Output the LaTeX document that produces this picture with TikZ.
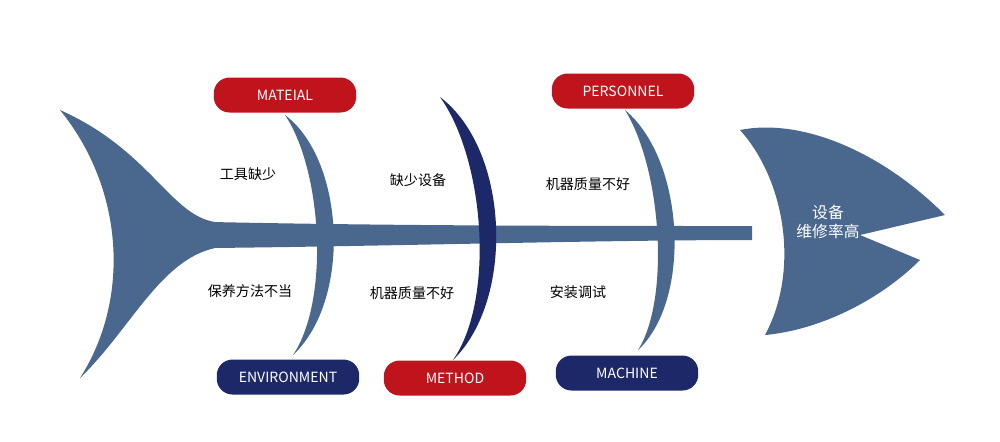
\documentclass[tikz,border=0pt]{standalone}
\usepackage{fontspec}
\setmainfont{Noto Sans CJK SC}
\usetikzlibrary{positioning}
\definecolor{fishblue}{RGB}{74,104,142}
\definecolor{fishnavy}{RGB}{28,40,104}
\definecolor{fishred}{RGB}{192,20,28}
\tikzset{
  pill/.style={rounded corners=9pt, minimum width=2.85cm, minimum height=0.7cm, text=white, font=\fontsize{8}{9}\selectfont, inner sep=0pt},
  cause/.style={font=\fontsize{8}{9}\selectfont, text=black}
}
\begin{document}
\begin{tikzpicture}[x=0.02cm, y=-0.02cm]
\useasboundingbox (0,0) rectangle (1000,441);
% Tail
\fill[fishblue] (60,110) .. controls (150,150) and (170,215) .. (215,222) -- (215,248)
  .. controls (160,260) and (130,330) .. (80,378) .. controls (130,300) and (125,190) .. (60,110) -- cycle;
% Spine
\fill[fishblue] (212,222) .. controls (400,226) and (600,226) .. (752,226) -- (752,240)
  .. controls (600,240) and (400,246) .. (212,248) -- cycle;
% Head
\fill[fishblue] (740,130) .. controls (800,118) and (880,150) .. (945,215) -- (860,235) -- (920,260)
  .. controls (880,300) and (820,330) .. (765,335) .. controls (800,270) and (785,180) .. (740,130) -- cycle;
% Ribs
\fill[fishblue] (285,115) .. controls (322,170) and (330,300) .. (293,355) .. controls (352,300) and (345,160) .. (285,115) -- cycle;
\fill[fishnavy] (440,97) .. controls (485,160) and (495,300) .. (453,360) .. controls (515,300) and (510,150) .. (440,97) -- cycle;
\fill[fishblue] (625,110) .. controls (662,170) and (670,300) .. (638,350) .. controls (692,300) and (685,160) .. (625,110) -- cycle;
% Category labels
\node[pill, fill=fishred] (mat) at (285,95) {MATEIAL};
\node[pill, fill=fishnavy] (env) at (288,377) {ENVIRONMENT};
\node[pill, fill=fishred] (met) at (455,378) {METHOD};
\node[pill, fill=fishred] (per) at (623,91) {PERSONNEL};
\node[pill, fill=fishnavy] (mac) at (627,373) {MACHINE};
% Causes
\node[cause] (c1) at (248,174) {工具缺少};
\node[cause] (c2) at (250,291) {保养方法不当};
\node[cause] (c3) at (418,180) {缺少设备};
\node[cause] (c4) at (412,293) {机器质量不好};
\node[cause] (c5) at (588,184) {机器质量不好};
\node[cause] (c6) at (578,292) {安装调试};
% Effect
\node[text=white, font=\fontsize{9}{11}\selectfont, align=center] (eff) at (828,222) {设备\\维修率高};
\end{tikzpicture}
\end{document}
